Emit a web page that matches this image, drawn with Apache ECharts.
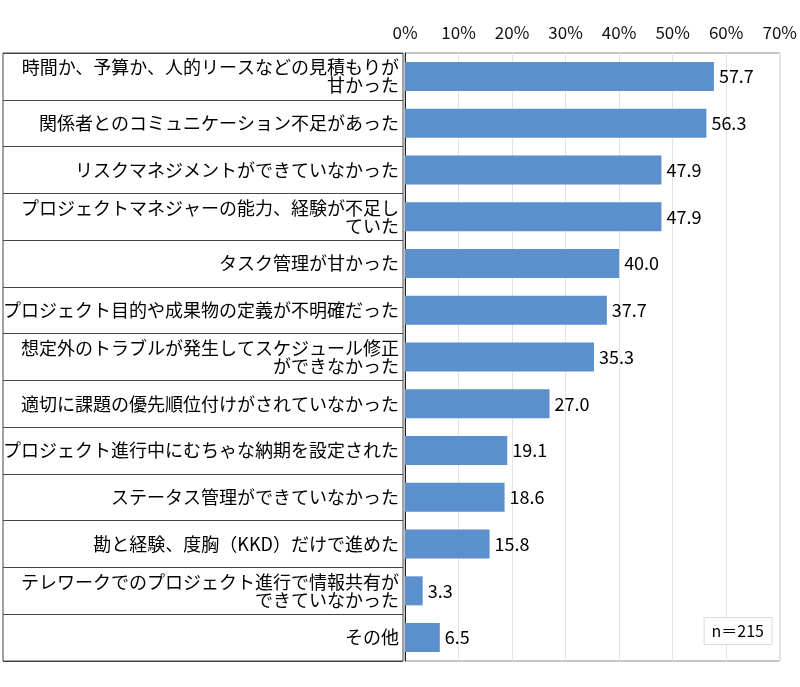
<!DOCTYPE html>
<html>
<head>
<meta charset="utf-8">
<script src="https://cdn.jsdelivr.net/npm/echarts@6/dist/echarts.min.js"></script>
<style>
  html, body { margin: 0; padding: 0; background: #fff; }
  #main { width: 800px; height: 687px; }
</style>
</head>
<body>
<div id="main"></div>
<script>
// 項目（上から順）
var categories = [
    '時間か、予算か、人的リースなどの見積もりが\n甘かった',
    '関係者とのコミュニケーション不足があった',
    'リスクマネジメントができていなかった',
    'プロジェクトマネジャーの能力、経験が不足し\nていた',
    'タスク管理が甘かった',
    'プロジェクト目的や成果物の定義が不明確だった',
    '想定外のトラブルが発生してスケジュール修正\nができなかった',
    '適切に課題の優先順位付けがされていなかった',
    'プロジェクト進行中にむちゃな納期を設定された',
    'ステータス管理ができていなかった',
    '勘と経験、度胸（KKD）だけで進めた',
    'テレワークでのプロジェクト進行で情報共有が\nできていなかった',
    'その他'
];
// 割合（%）
var values = [57.7, 56.3, 47.9, 47.9, 40.0, 37.7, 35.3, 27.0, 19.1, 18.6, 15.8, 3.3, 6.5];
// 目盛
var tickMin = 0, tickMax = 70, tickStep = 10;

var font = '"Noto Sans CJK JP", "Noto Sans", sans-serif';
var chart = echarts.init(document.getElementById('main'));

var option = {
    animation: false,
    textStyle: { fontFamily: font },
    title: {
        text: 'n＝215',
        right: 28,
        top: 617,
        padding: [6, 8],
        borderColor: '#d9d9d9',
        borderWidth: 1,
        backgroundColor: '#fff',
        textStyle: { fontSize: 16, fontWeight: 'normal', color: '#000', fontFamily: font }
    },
    grid: [
        // グラフ本体
        { left: 403, right: 18, top: 53, height: 608, show: true, borderColor: '#8c8c8c', borderWidth: 1, backgroundColor: 'transparent' },
        // 左側の項目枠
        { left: 3, width: 400, top: 53, height: 608, show: true, borderColor: '#444', borderWidth: 1, backgroundColor: 'transparent' }
    ],
    xAxis: [{
        gridIndex: 0,
        type: 'value',
        position: 'top',
        min: tickMin,
        max: tickMax,
        interval: tickStep,
        axisLine: { show: false },
        axisTick: { show: false },
        axisLabel: { formatter: '{value}%', fontSize: 17, color: '#111', margin: 12, fontFamily: font },
        splitLine: { show: true, lineStyle: { color: '#e3e3e3' } }
    }, {
        gridIndex: 1,
        type: 'value',
        show: false
    }],
    yAxis: [{
        gridIndex: 0,
        type: 'category',
        inverse: true,
        data: categories,
        axisLine: { show: true, lineStyle: { color: '#222' } },
        axisTick: { show: false },
        axisLabel: {
            fontSize: 18,
            lineHeight: 18,
            color: '#000',
            align: 'right',
            margin: 6,
            fontFamily: font
        }
    }, {
        gridIndex: 1,
        type: 'category',
        inverse: true,
        data: categories,
        axisLine: { show: false },
        axisTick: { show: false },
        axisLabel: { show: false },
        splitLine: { show: true, lineStyle: { color: '#444', width: 1 } }
    }],
    series: [{
        type: 'bar',
        xAxisIndex: 0,
        yAxisIndex: 0,
        data: values,
        barWidth: 29,
        itemStyle: { color: '#5b8fcd' },
        label: {
            show: true,
            position: 'right',
            distance: 5,
            fontSize: 18,
            color: '#000',
            fontFamily: font,
            formatter: function (p) { return p.value.toFixed(1); }
        }
    }]
};

chart.setOption(option);
</script>
</body>
</html>
